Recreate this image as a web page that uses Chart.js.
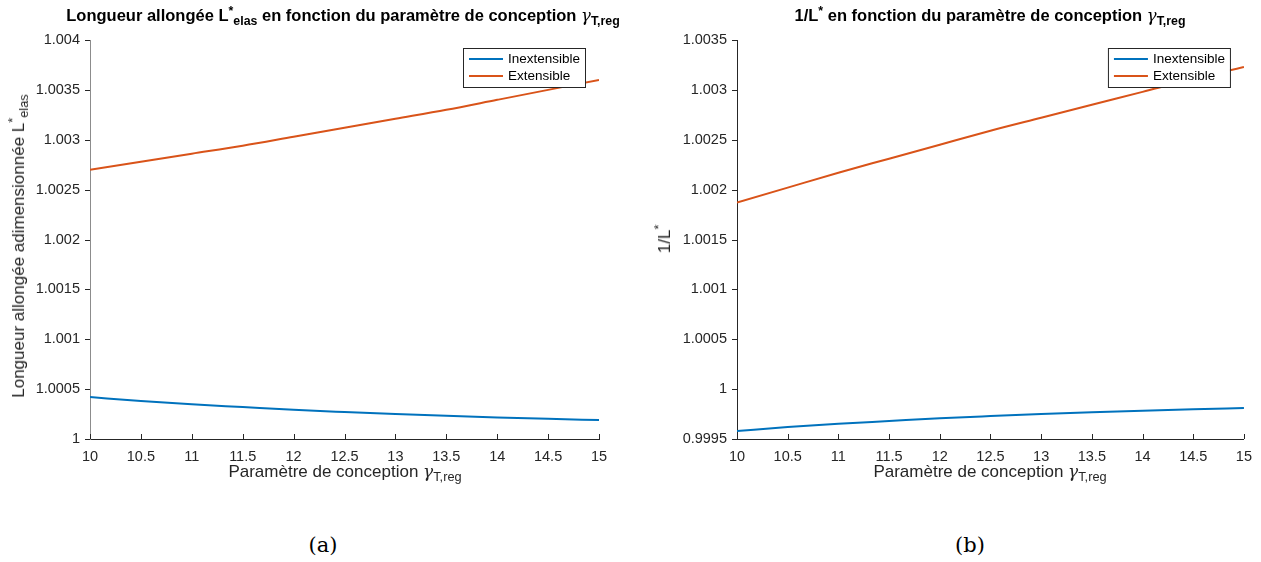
<!DOCTYPE html>
<html>
<head>
<meta charset="utf-8">
<script src="https://cdn.jsdelivr.net/npm/chart.js@4.4.0/dist/chart.umd.min.js"></script>
<style>
  body { margin: 0; background: #fff; width: 1261px; height: 562px; position: relative; overflow: hidden; font-family: "Liberation Sans", Arial, sans-serif; color: #000; }
  .box { position: absolute; top: 0; height: 500px; }
  .ttl { position: absolute; white-space: nowrap; font-weight: bold; font-size: 16.5px; color: #000; transform: translateX(-50%); }
  .xt { position: absolute; white-space: nowrap; font-size: 17px; color: #262626; transform: translateX(-50%); }
  .yt { position: absolute; white-space: nowrap; font-size: 17px; color: #262626; transform: translate(-50%, -50%) rotate(-90deg); }
  .cap { position: absolute; font-family: "DejaVu Serif", "Liberation Serif", serif; font-size: 21px; transform: translateX(-50%); }
  sub, sup { font-size: 75%; line-height: 0; }
  .g { font-family: "DejaVu Serif", serif; font-style: italic; font-weight: normal; }
</style>
</head>
<body>
<div class="box" style="left:0;width:630px"><canvas id="chartA"></canvas></div>
<div class="box" style="left:640px;width:621px"><canvas id="chartB"></canvas></div>

<div class="ttl" style="left:343px;top:6px">Longueur allongée L<sup>*</sup><sub>elas</sub> en fonction du paramètre de conception <span class="g">γ</span><sub>T,reg</sub></div>
<div class="ttl" style="left:990px;top:6px">1/L<sup>*</sup> en fonction du paramètre de conception <span class="g">γ</span><sub>T,reg</sub></div>

<div class="xt" style="left:345px;top:461px">Paramètre de conception <span class="g">γ</span><sub>T,reg</sub></div>
<div class="xt" style="left:990px;top:461px">Paramètre de conception <span class="g">γ</span><sub>T,reg</sub></div>

<div class="yt" style="left:19px;top:246px">Longueur allongée adimensionnée L<sup>*</sup><sub>elas</sub></div>
<div class="yt" style="left:665px;top:239px">1/L<sup>*</sup></div>

<div class="cap" style="left:323px;top:533px">(a)</div>
<div class="cap" style="left:970px;top:533px">(b)</div>

<script>
const gammaValues = [10, 10.5, 11, 11.5, 12, 12.5, 13, 13.5, 14, 14.5, 15];
const xTicks = [10, 10.5, 11, 11.5, 12, 12.5, 13, 13.5, 14, 14.5, 15];

// (a) longueur allongée
const lInext = [1.00042, 1.00038, 1.000348, 1.00032, 1.000292, 1.00027, 1.00025, 1.000232, 1.000216, 1.000202, 1.00019];
const lExt = [1.0027, 1.00278, 1.00286, 1.00294, 1.00303, 1.00312, 1.00321, 1.0033, 1.0034, 1.0035, 1.0036];
const yTicksA = [1, 1.0005, 1.001, 1.0015, 1.002, 1.0025, 1.003, 1.0035, 1.004];

// (b) 1/L*
const invInext = [0.99958, 0.99962, 0.999652, 0.99968, 0.999708, 0.99973, 0.99975, 0.999768, 0.999784, 0.999798, 0.99981];
const invExt = [1.00187, 1.00202, 1.00217, 1.00231, 1.00245, 1.00259, 1.00272, 1.00285, 1.00298, 1.00311, 1.00323];
const yTicksB = [0.9995, 1, 1.0005, 1.001, 1.0015, 1.002, 1.0025, 1.003, 1.0035];

const seriesNames = ["Inextensible", "Extensible"];
const colors = ["#0072BD", "#D95319"];
const axisColor = "#262626";

// graduations : x vers l'intérieur, y vers l'extérieur ; légende encadrée
const matlabLook = {
  id: "matlabLook",
  afterDraw(chart) {
    const ctx = chart.ctx;
    const a = chart.chartArea;
    const xs = chart.scales.x, ys = chart.scales.y;
    ctx.save();
    ctx.strokeStyle = axisColor;
    ctx.lineWidth = 1;
    ctx.beginPath();
    xs.ticks.forEach(t => {
      const px = Math.round(xs.getPixelForValue(t.value)) + 0.5;
      ctx.moveTo(px, a.bottom);
      ctx.lineTo(px, a.bottom - 5);
    });
    ys.ticks.forEach(t => {
      const py = Math.round(ys.getPixelForValue(t.value)) + 0.5;
      ctx.moveTo(a.left, py);
      ctx.lineTo(a.left - 5, py);
    });
    ctx.stroke();

    // légende
    const lw = 122, lh = 39;
    const lx = a.right - lw - 14, ly = a.top + 8;
    ctx.fillStyle = "#fff";
    ctx.fillRect(lx, ly, lw, lh);
    ctx.strokeRect(lx + 0.5, ly + 0.5, lw, lh);
    ctx.font = "13.5px 'Liberation Sans', Arial, sans-serif";
    ctx.textBaseline = "middle";
    chart.data.datasets.forEach((ds, i) => {
      const yy = ly + 11 + i * 17;
      ctx.strokeStyle = ds.borderColor;
      ctx.lineWidth = 2;
      ctx.beginPath();
      ctx.moveTo(lx + 6, yy);
      ctx.lineTo(lx + 40, yy);
      ctx.stroke();
      ctx.fillStyle = "#000";
      ctx.fillText(ds.label, lx + 45, yy);
    });
    ctx.restore();
  }
};

function makeChart(id, ySeries, yTicks, padRight, yWidth, yBorder) {
  const ctx = document.getElementById(id).getContext("2d");
  return new Chart(ctx, {
    type: "line",
    data: {
      datasets: ySeries.map((vals, i) => ({
        label: seriesNames[i],
        data: gammaValues.map((g, k) => ({ x: g, y: vals[k] })),
        borderColor: colors[i],
        borderWidth: 2,
        pointRadius: 0,
        fill: false,
        cubicInterpolationMode: "monotone"
      }))
    },
    options: {
      responsive: false,
      animation: false,
      layout: { padding: { left: 0, right: padRight, top: 40, bottom: 0 } },
      plugins: { legend: { display: false }, tooltip: { enabled: false } },
      scales: {
        x: {
          type: "linear",
          min: xTicks[0],
          max: xTicks[xTicks.length - 1],
          afterBuildTicks: s => { s.ticks = xTicks.map(v => ({ value: v })); },
          afterFit: s => { s.height = 61; },
          grid: { display: false, drawTicks: false },
          border: { display: true, color: axisColor, width: 1 },
          ticks: {
            color: axisColor,
            padding: 9,
            maxRotation: 0,
            autoSkip: false,
            font: { family: "'Liberation Sans', Arial, sans-serif", size: 14.5 },
            callback: v => String(v)
          }
        },
        y: {
          min: yTicks[0],
          max: yTicks[yTicks.length - 1],
          afterBuildTicks: s => { s.ticks = yTicks.map(v => ({ value: v })); },
          afterFit: s => { s.width = yWidth; },
          grid: { display: false, drawTicks: false },
          border: { display: true, color: yBorder, width: 1 },
          ticks: {
            color: axisColor,
            padding: 10,
            autoSkip: false,
            font: { family: "'Liberation Sans', Arial, sans-serif", size: 14.5 },
            callback: v => String(Number(v.toFixed(4)))
          }
        }
      }
    },
    plugins: [matlabLook]
  });
}

const cA = document.getElementById("chartA");
cA.width = 630; cA.height = 500;
const cB = document.getElementById("chartB");
cB.width = 621; cB.height = 500;

makeChart("chartA", [lInext, lExt], yTicksA, 31, 90, "#8c8c8c");
makeChart("chartB", [invInext, invExt], yTicksB, 17, 97, axisColor);
</script>
</body>
</html>
